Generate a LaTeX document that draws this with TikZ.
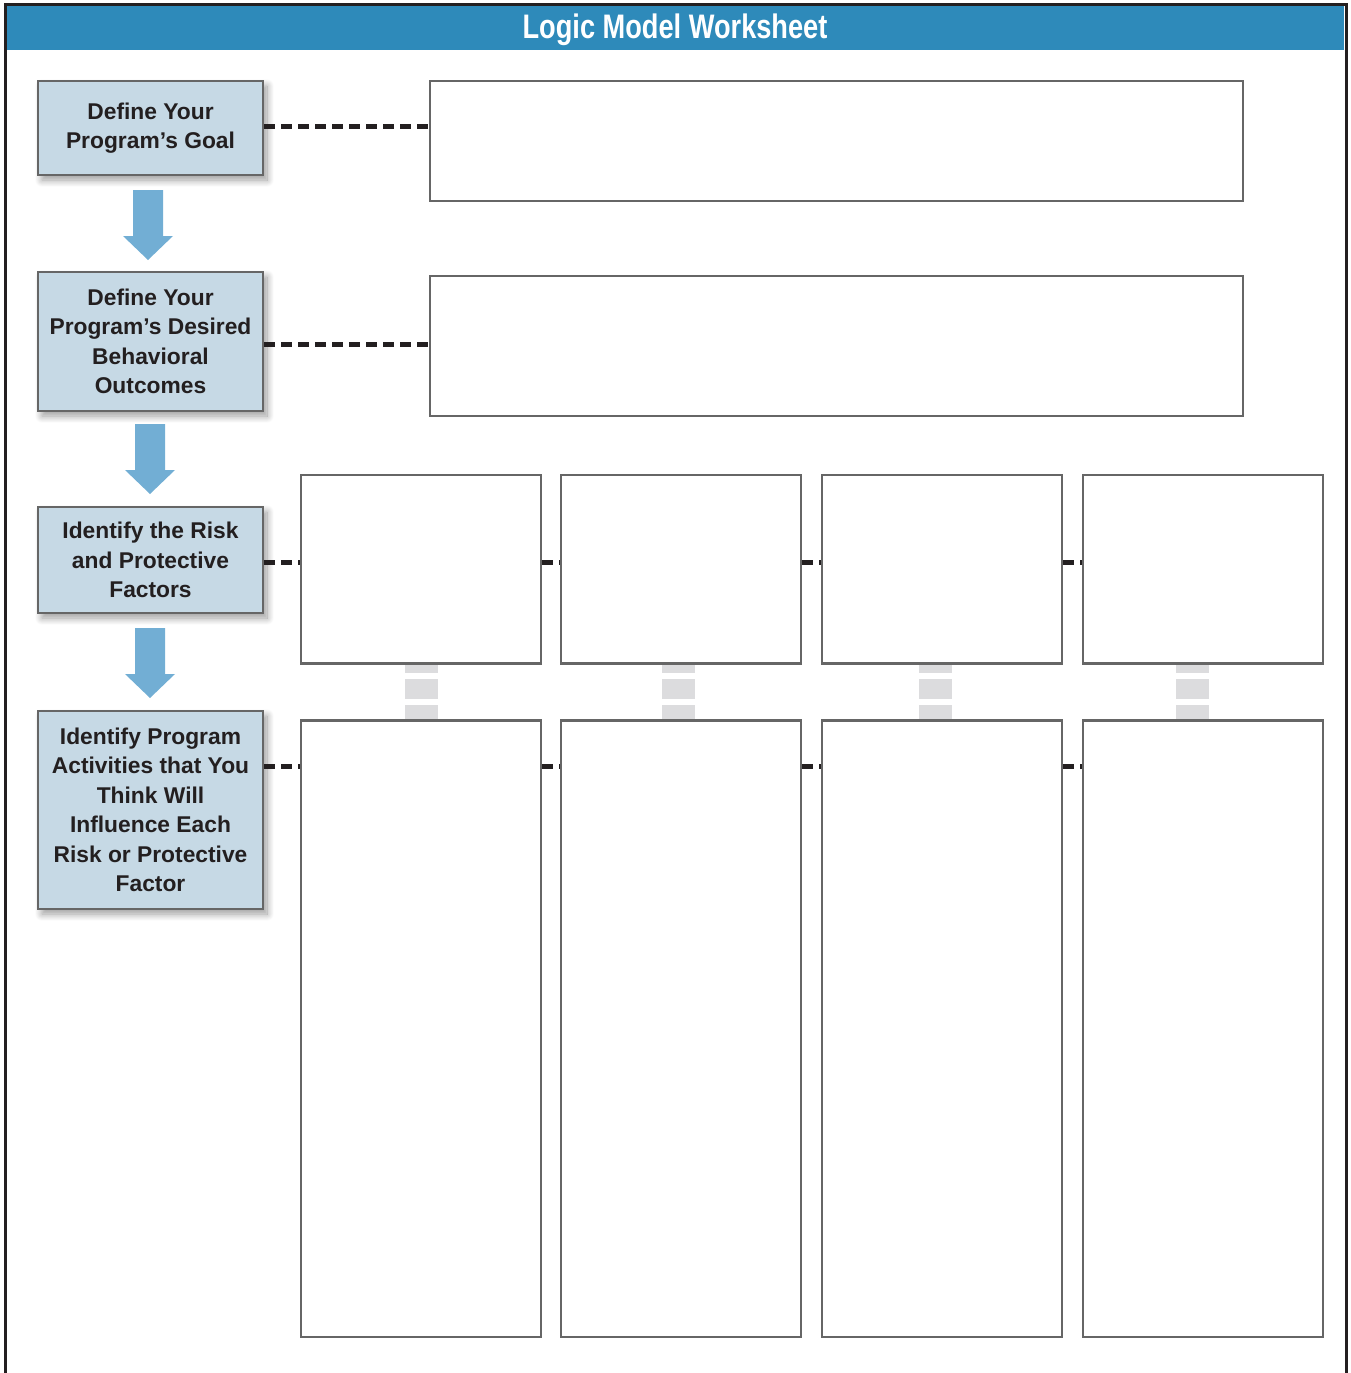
\documentclass[tikz,border=0pt]{standalone}
\usepackage{fontspec}
\setmainfont{Liberation Sans}
\newfontfamily\condfont{Liberation Sans}[FakeStretch=0.8]
\usetikzlibrary{shadows,shadows.blur,calc}
\definecolor{titleblue}{HTML}{2E8ABA}
\definecolor{stepfill}{HTML}{C6D9E5}
\definecolor{arrowblue}{HTML}{72AED4}
\definecolor{boxgray}{HTML}{666666}
\definecolor{txt}{HTML}{231F20}
\definecolor{linkgray}{HTML}{DCDCDE}
\tikzset{
  stepbox/.style={draw=boxgray, line width=2pt, fill=stepfill, minimum width=225pt,
    align=center, font=\fontsize{22.8}{29.5}\selectfont\bfseries, text=txt,
    blur shadow={shadow xshift=4pt, shadow yshift=-5pt, shadow blur radius=7pt, shadow blur steps=12, shadow opacity=40}},
  entrybox/.style={draw=boxgray, line width=2pt, fill=white},
  dashlink/.style={draw=txt, line width=5pt, dash pattern=on 11pt off 6pt},
  downarrow/.style={fill=arrowblue},
  graylink/.style={draw=linkgray, line width=33pt, dash pattern=on 10pt off 6pt on 20pt off 6pt on 20pt}
}
\begin{document}
\begin{tikzpicture}[x=1pt,y=-1pt]
\useasboundingbox (0,0) rectangle (1351,1373);
% frame and title bar
\fill[titleblue] (6,6) rectangle (1344,50);
\draw[line width=3pt, draw=txt] (5,1373) -- (5,4.5) -- (1346,4.5) -- (1346,1373);
\node[font=\fontsize{34}{40}\condfont\bfseries, text=white] (title) at (675,30) {Logic Model Worksheet};

% left step boxes
\node[stepbox, minimum height=94pt] (b1) at (150.5,128) {Define Your\\Program’s Goal};
\node[stepbox, minimum height=139pt] (b2) at (150.5,341.5) {Define Your\\Program’s Desired\\Behavioral\\Outcomes};
\node[stepbox, minimum height=106pt] (b3) at (150.5,560) {Identify the Risk\\and Protective\\Factors};
\node[stepbox, minimum height=198pt] (b4) at (150.5,810) {Identify Program\\Activities that You\\Think Will\\Influence Each\\Risk or Protective\\Factor};

% arrows
\fill[downarrow] (133,190) -- (163,190) -- (163,236) -- (173,236) -- (148,260) -- (123,236) -- (133,236) -- cycle;
\fill[downarrow] (135,424) -- (165,424) -- (165,470) -- (175,470) -- (150,494) -- (125,470) -- (135,470) -- cycle;
\fill[downarrow] (135,628) -- (165,628) -- (165,674) -- (175,674) -- (150,698) -- (125,674) -- (135,674) -- cycle;

% entry boxes
\node[entrybox, minimum width=813pt, minimum height=120pt] (t1) at (836.5,141) {};
\node[entrybox, minimum width=813pt, minimum height=140pt] (t2) at (836.5,346) {};
\foreach \i/\x in {1/421,2/681,3/942,4/1203}{
  \node[entrybox, minimum width=240pt, minimum height=188pt] (r\i) at (\x,569) {};
  \node[entrybox, minimum width=240pt, minimum height=616pt] (a\i) at (\x,1029) {};
}

% gray links between rows
\foreach \i/\x in {1/421,2/678,3/935.5,4/1192.5}{
  \draw[graylink] (\x,663) -- (\x,721);
}
\foreach \i in {1,...,4}{
  \draw[boxgray, line width=2pt] (r\i.south west) -- (r\i.south east);
  \draw[boxgray, line width=2pt] (a\i.north west) -- (a\i.north east);
}

% dashed links
\draw[dashlink] (b1.east |- 0,126) -- (t1.west |- 0,126);
\draw[dashlink] (b2.east |- 0,344) -- (t2.west |- 0,344);
\draw[dashlink] (b3.east |- 0,562) -- (r1.west |- 0,562);
\draw[dashlink] (r1.east |- 0,562) -- (r2.west |- 0,562);
\draw[dashlink] (r2.east |- 0,562) -- (r3.west |- 0,562);
\draw[dashlink] (r3.east |- 0,562) -- (r4.west |- 0,562);
\draw[dashlink] (b4.east |- 0,766) -- (a1.west |- 0,766);
\draw[dashlink] (a1.east |- 0,766) -- (a2.west |- 0,766);
\draw[dashlink] (a2.east |- 0,766) -- (a3.west |- 0,766);
\draw[dashlink] (a3.east |- 0,766) -- (a4.west |- 0,766);
\end{tikzpicture}
\end{document}
